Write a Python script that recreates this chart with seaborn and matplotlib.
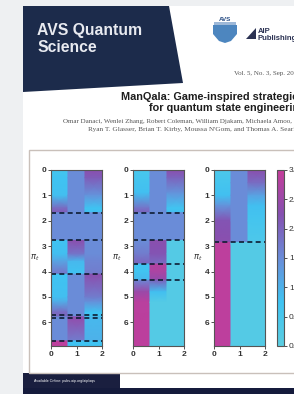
import matplotlib
matplotlib.use("Agg")
import matplotlib.pyplot as plt
import matplotlib.patches as mpatches
import numpy as np
import seaborn as sns

# keyframe rows (turn index) and per-column values, one block per panel
P1_ROWS = [0, 0.3, 1.0, 1.5, 1.67, 1.69, 2.76, 2.78, 3.3, 3.6, 4.09, 4.11, 5.0, 5.2, 5.6, 5.77, 5.79, 6.72, 6.74, 6.93]
P1_C0 = [0.6, 0.75, 0.8, 1.9, 2.1, 1.5, 1.5, 0.75, 0.8, 1.2, 1.8, 0.75, 0.8, 1.1, 1.9, 2.0, 1.5, 1.5, 2.9, 2.9]
P1_C1 = [1.5, 1.5, 1.5, 1.5, 1.5, 1.5, 1.5, 2.3, 1.8, 0.9, 0.75, 1.5, 1.5, 1.5, 1.5, 1.5, 2.4, 1.7, 0.75, 0.75]
P1_C2 = [2.3, 2.1, 1.4, 0.75, 0.8, 1.5, 1.5, 1.5, 1.5, 1.6, 1.7, 2.3, 1.7, 1.4, 0.75, 0.75, 0.9, 1.0, 0.75, 0.75]

P2_ROWS = [0, 0.3, 0.9, 1.5, 1.67, 1.69, 2.76, 2.78, 3.3, 3.69, 3.71, 4.0, 4.33, 4.35, 4.8, 5.2, 6.93]
P2_C0 = [0.5, 0.6, 0.8, 1.8, 2.0, 1.5, 1.5, 1.5, 1.7, 2.0, 0.75, 0.7, 0.9, 1.6, 2.5, 2.85, 2.9]
P2_C1 = [1.5, 1.5, 1.5, 1.5, 1.5, 1.5, 1.5, 2.3, 2.2, 1.9, 2.8, 2.7, 2.4, 2.0, 0.8, 0.2, 0.2]
P2_C2 = [2.3, 2.0, 1.4, 0.7, 0.8, 1.5, 1.5, 0.2, 0.2, 0.2, 0.2, 0.2, 0.2, 0.2, 0.2, 0.2, 0.2]

P3_ROWS = [0, 0.5, 1.0, 1.4, 2.0, 2.84, 2.86, 6.93]
P3_C0 = [0.4, 0.6, 0.8, 1.4, 2.2, 2.3, 2.9, 2.9]
P3_C1 = [1.5, 1.5, 1.5, 1.5, 1.5, 1.5, 0.2, 0.2]
P3_C2 = [2.3, 1.9, 1.2, 0.8, 0.6, 0.4, 0.2, 0.2]

P1_CUTS = [1.68, 2.77, 4.1, 5.72, 5.83, 6.73]
P2_CUTS = [1.68, 2.77, 3.7, 4.34]
P3_CUTS = [2.85]

CBAR_TICKS = [0.0, 0.5, 1.0, 1.5, 2.0, 2.5, 3.0]
X_TICKS = [0, 1, 2]
Y_TICKS = [0, 1, 2, 3, 4, 5, 6]

TITLE = ["ManQala: Game-inspired strategies", "for quantum state engineering"]
AUTHORS = ["Omar Danaci, Wenlei Zhang, Robert Coleman, William Djakam, Michaela Amoo,",
           "Ryan T. Glasser, Brian T. Kirby, Moussa N'Gom, and Thomas A. Searles"]

W, H = 294, 394
NAVY = "#1c2b4b"

sns.set_theme(style="white")
plt.rcParams["font.family"] = ["Liberation Sans", "DejaVu Sans"]

cmap = sns.blend_palette(["#5ccde0", "#3fc3f2", "#6a8cd8", "#8550b0", "#c53c9a"], as_cmap=True)


def px(x, y, w=0, h=0):
    # pixel box (top-left origin) -> figure fraction rect
    return [x / W, 1 - (y + h) / H, w / W, h / H]


def poly(points, **kw):
    fig.add_artist(mpatches.Polygon([(x / W, 1 - y / H) for x, y in points], closed=True,
                                    transform=fig.transFigure, edgecolor="none", zorder=-2, **kw))


fig = plt.figure(figsize=(W / 100, H / 100), dpi=100)
fig.patch.set_facecolor("#eef0f2")

# page, header, footer
poly([(23, 6), (W, 6), (W, H), (23, H)], facecolor="white")
poly([(23, 6), (169, 6), (183, 83), (23, 92)], facecolor=NAVY)
poly([(23, 388), (W, 388), (W, H), (23, H)], facecolor="#151b3c")
fig.add_artist(mpatches.Rectangle((29 / W, 1 - 373 / H), 1, 223 / H, transform=fig.transFigure,
                                  facecolor="none", edgecolor="#c9c0ba", linewidth=1.0, zorder=-1))
poly([(23, 373), (120, 373), (120, 388), (23, 388)], facecolor="#1a1f3f")
fig.text(34 / W, 1 - 381 / H, "Available Online: pubs.aip.org/aip/aqs", color="white",
         fontsize=2.6, va="center")

fig.text(37 / W, 1 - 35 / H, "AVS Quantum", color="#e8eaf0", fontsize=11.3, fontweight="bold")
fig.text(37 / W, 1 - 52 / H, "Science", color="#e8eaf0", fontsize=11.3, fontweight="bold")

# logos
poly([(213, 25), (237, 25), (237, 34), (231, 41), (225, 43), (219, 41), (213, 34)], facecolor="#4d86bf")
poly([(214, 22), (236, 22), (236, 25), (214, 25)], facecolor="#9db8d8")
fig.text(225 / W, 1 - 21 / H, "AVS", color="#2a4f86", fontsize=4.5, fontweight="bold", ha="center")
poly([(246, 39), (256, 28), (256, 39)], facecolor="#2b3253")
fig.text(258 / W, 1 - 33 / H, "AIP", color="#2b3253", fontsize=5.5, fontweight="bold")
fig.text(257 / W, 1 - 40 / H, "Publishing", color="#2b3253", fontsize=5.5, fontweight="bold")

fig.text(234 / W, 1 - 75 / H, "Vol. 5, No. 3, Sep. 2024", color="#555555", fontsize=5,
         family="Liberation Serif")
fig.text(121 / W, 1 - 100 / H, TITLE[0], color="#1e1e1e", fontsize=7.8, fontweight="bold")
fig.text(149 / W, 1 - 111 / H, TITLE[1], color="#1e1e1e", fontsize=7.8, fontweight="bold")
fig.text(63 / W, 1 - 123.5 / H, AUTHORS[0], color="#555555", fontsize=5.0, family="Liberation Serif")
fig.text(88 / W, 1 - 130.5 / H, AUTHORS[1], color="#555555", fontsize=5.2, family="Liberation Serif")

panels = [
    (51, P1_ROWS, [P1_C0, P1_C1, P1_C2], P1_CUTS),
    (133, P2_ROWS, [P2_C0, P2_C1, P2_C2], P2_CUTS),
    (214, P3_ROWS, [P3_C0, P3_C1, P3_C2], P3_CUTS),
]
edges = np.linspace(0, 2, 4)
for left, rows, cols, cuts in panels:
    ax = fig.add_axes(px(left, 170, 51, 176))
    rows = np.asarray(rows, dtype=float)
    for j, vals in enumerate(cols):
        X = np.column_stack([np.full_like(rows, edges[j]), np.full_like(rows, edges[j + 1])])
        Y = np.column_stack([rows, rows])
        C = np.column_stack([vals, vals])
        ax.pcolormesh(X, Y, C, shading="gouraud", cmap=cmap, vmin=0, vmax=3)
    for c in cuts:
        ax.axhline(c, color="#0e1d33", linestyle=(0, (3, 2)), linewidth=1.2)
    ax.set_xlim(0, 2)
    ax.set_ylim(rows[-1], 0)
    ax.set_xticks(X_TICKS)
    ax.set_yticks(Y_TICKS)
    ax.tick_params(labelsize=6, colors="#333333", length=2, width=0.6, pad=1.5,
                   left=True, bottom=True)
    for lab in ax.get_xticklabels() + ax.get_yticklabels():
        lab.set_fontweight("bold")
    ax.set_ylabel(r"$\pi_t$", rotation=0, fontsize=6, color="#333333", labelpad=5, va="center")
    for s in ax.spines.values():
        s.set_color("#555555")
        s.set_linewidth(0.8)

cax = fig.add_axes(px(277, 170, 7, 176))
sm = plt.cm.ScalarMappable(cmap=cmap, norm=plt.Normalize(0, 3))
cb = fig.colorbar(sm, cax=cax, ticks=CBAR_TICKS)
cb.ax.set_yticklabels([f"{t:.1f}" for t in CBAR_TICKS])
cb.ax.tick_params(labelsize=6, colors="#333333", length=2, width=0.6, pad=1.5)
cb.outline.set_edgecolor("#555555")
cb.outline.set_linewidth(0.8)

fig.savefig("out.png", dpi=100)
